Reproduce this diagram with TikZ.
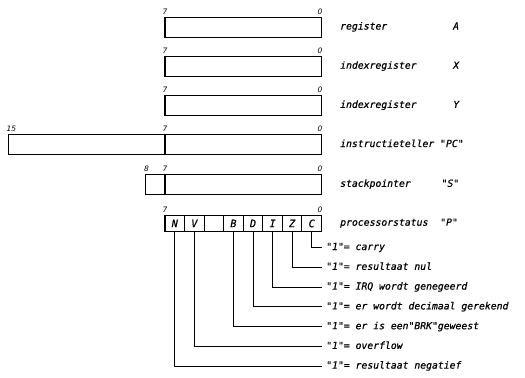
\documentclass[tikz,border=0pt]{standalone}
\usepackage{fontspec}
\newfontfamily\lblfont{DejaVu Sans Mono Oblique}[FakeBold=0.6]
\newfontfamily\digfont{DejaVu Sans Oblique}
\begin{document}
\begin{tikzpicture}[x=1bp,y=-1bp,
  regbox/.style={draw, line width=1.3bp, inner sep=0pt, minimum height=20bp},
  cellbox/.style={draw, line width=1.1bp, inner sep=0pt, minimum width=19.56bp, minimum height=15.5bp, font=\lblfont\fontsize{10.2}{11}\selectfont},
  lbl/.style={anchor=west, inner sep=4bp, text height=7bp, text depth=2bp, font=\lblfont\fontsize{9.8}{11}\selectfont},
  bitno/.style={anchor=base, inner sep=0pt, font=\digfont\fontsize{7.5}{9}\selectfont},
  conn/.style={line width=0.9bp}]
\useasboundingbox (0,0) rectangle (525,377);

% registers
\node[regbox, minimum width=156.5bp] (A) at (243.25,27.3) {};
\node[regbox, minimum width=156.5bp] (X) at (243.25,66.5) {};
\node[regbox, minimum width=156.5bp] (Y) at (243.25,105.7) {};
\node[regbox, minimum width=156.7bp] (PCH) at (86.65,144.8) {};
\node[regbox, minimum width=156.5bp] (PCL) at (243.25,144.8) {};
\node[regbox, minimum width=19.3bp] (SH) at (155.35,184.6) {};
\node[regbox, minimum width=156.5bp] (SL) at (243.25,184.6) {};

% status cells
\node[cellbox] (cN) at (174.78,223.45) {N};
\node[cellbox] (cV) at (194.34,223.45) {V};
\node[cellbox] (cE) at (213.91,223.45) {};
\node[cellbox] (cB) at (233.47,223.45) {B};
\node[cellbox] (cD) at (253.03,223.45) {D};
\node[cellbox] (cI) at (272.59,223.45) {I};
\node[cellbox] (cZ) at (292.16,223.45) {Z};
\node[cellbox] (cC) at (311.72,223.45) {C};

% bit numbers
\node[bitno] (a7) at (165,14) {7};
\node[bitno] (a0) at (320,14) {0};
\node[bitno] (x7) at (165,53.2) {7};
\node[bitno] (x0) at (320,53.2) {0};
\node[bitno] (y7) at (165,92.4) {7};
\node[bitno] (y0) at (320,92.4) {0};
\node[bitno] (p15) at (11.5,131.5) {15};
\node[bitno] (p7) at (165,131.5) {7};
\node[bitno] (p0) at (320,131.5) {0};
\node[bitno] (s8) at (146.5,171.3) {8};
\node[bitno] (s7) at (165,171.3) {7};
\node[bitno] (s0) at (320,171.3) {0};
\node[bitno] (st7) at (165,212.2) {7};
\node[bitno] (st0) at (320,212.2) {0};

% register labels
\node[lbl] (lA) at (336,27) {register};
\node[lbl] (nA) at (449,27) {A};
\node[lbl] (lX) at (336,66.2) {indexregister};
\node[lbl] (nX) at (449,66.2) {X};
\node[lbl] (lY) at (336,105.4) {indexregister};
\node[lbl] (nY) at (449,105.4) {Y};
\node[lbl] (lPC) at (336,144.5) {instructieteller "PC"};
\node[lbl] (lS) at (336,184.3) {stackpointer};
\node[lbl] (nS) at (437.3,184.3) {"S"};
\node[lbl] (lP) at (336,223.2) {processorstatus};
\node[lbl] (nP) at (436,223.2) {"P"};

% flag descriptions
\node[lbl] (tC) at (322,247.5) {"1"= carry};
\node[lbl] (tZ) at (322,267.3) {"1"= resultaat nul};
\node[lbl] (tI) at (322,287.1) {"1"= IRQ wordt genegeerd};
\node[lbl] (tD) at (322,306.9) {"1"= er wordt decimaal gerekend};
\node[lbl] (tB) at (322,326.7) {"1"= er is een"BRK"geweest};
\node[lbl] (tV) at (322,346.4) {"1"= overflow};
\node[lbl] (tN) at (322,366.1) {"1"= resultaat negatief};

% connectors
\draw[conn] (cC.south) |- (tC.west);
\draw[conn] (cZ.south) |- (tZ.west);
\draw[conn] (cI.south) |- (tI.west);
\draw[conn] (cD.south) |- (tD.west);
\draw[conn] (cB.south) |- (tB.west);
\draw[conn] (cV.south) |- (tV.west);
\draw[conn] (cN.south) |- (tN.west);
\end{tikzpicture}
\end{document}
